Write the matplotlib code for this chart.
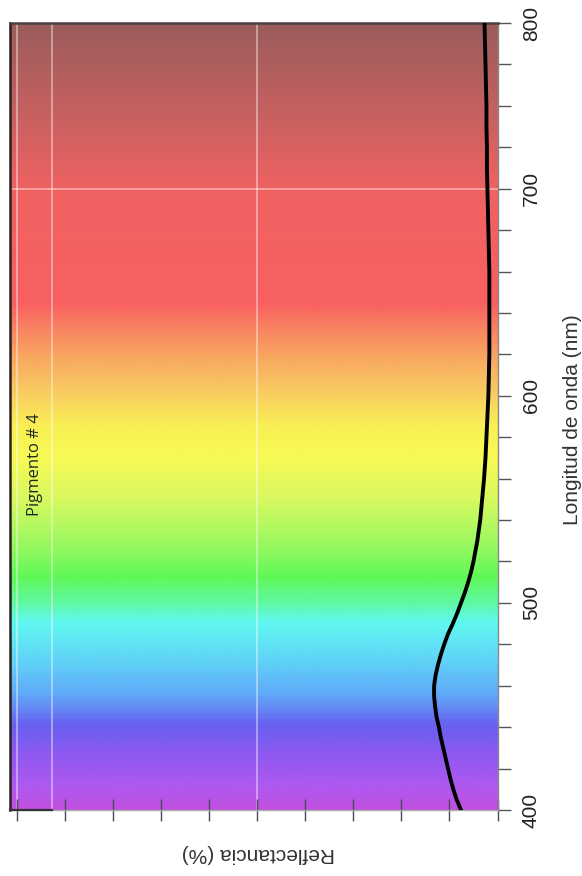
import numpy as np
import matplotlib
matplotlib.use("Agg")
import matplotlib.pyplot as plt
from matplotlib.colors import LinearSegmentedColormap

plt.rcParams['font.family'] = ['Liberation Sans', 'DejaVu Sans']

# ---- data ----
wavelength = [400, 405, 410, 415, 420, 425, 430, 435, 440, 445, 450, 455, 460,
              465, 470, 475, 480, 485, 490, 495, 500, 505, 510, 515, 520, 525,
              530, 535, 540, 545, 550, 560, 570, 580, 590, 600, 610, 620, 630,
              640, 650, 660, 670, 680, 690, 700, 710, 720, 730, 740, 750, 760,
              770, 780]
reflectance = [0.76, 0.85, 0.92, 0.98, 1.03, 1.08, 1.13, 1.18, 1.22, 1.27, 1.30,
               1.32, 1.32, 1.29, 1.24, 1.18, 1.11, 1.03, 0.93, 0.84, 0.76, 0.68,
               0.61, 0.55, 0.50, 0.46, 0.42, 0.39, 0.36, 0.34, 0.32, 0.28, 0.25,
               0.23, 0.21, 0.19, 0.18, 0.17, 0.17, 0.17, 0.17, 0.17, 0.18, 0.19,
               0.20, 0.21, 0.22, 0.22, 0.23, 0.23, 0.24, 0.25, 0.26, 0.27]

wl_ticks = list(range(400, 781, 20))
wl_labels = ['400', '', '', '', '', '500', '', '', '', '', '600', '', '', '', '',
             '700', '', '', '', '800']
refl_ticks = list(range(0, 11))
label_name = "Pigmento # 4"

# spectrum background colours (wavelength stop, colour)
spec_wl = [400, 410, 425, 440, 455, 470, 490, 500, 512, 530, 550, 570, 585,
           600, 615, 630, 645, 700, 740, 780]
spec_col = ['#c050e0', '#b058f0', '#9058f0', '#6860f0', '#60a8f8', '#60d0f8',
            '#60f8f0', '#60f8a0', '#60f858', '#a0f860', '#d8f860', '#f8fa55',
            '#f8f055', '#f8d060', '#f8b060', '#f88a60', '#f86060', '#f06262',
            '#c46060', '#9c5c5c']

W, H = 582, 876
fig = plt.figure(figsize=(W / 100, H / 100), dpi=100)
ax = fig.add_axes([10 / W, 66 / H, 487.5 / W, 787 / H])

xmax = 10.15
ax.set_xlim(xmax, 0)
ax.set_ylim(400, 780)

stops = [(w - spec_wl[0]) / (spec_wl[-1] - spec_wl[0]) for w in spec_wl]
cmap = LinearSegmentedColormap.from_list('spec', list(zip(stops, spec_col)))
grad = np.linspace(0, 1, 400).reshape(-1, 1)
ax.imshow(grad, cmap=cmap, aspect='auto', origin='lower',
          extent=[xmax, 0, 400, 780], zorder=0, interpolation='bilinear')

# grid lines
for gx in [10, 9.27, 5]:
    ax.axvline(gx, color='white', alpha=0.45, lw=1.3, zorder=1)
ax.axhline(700, color='white', alpha=0.45, lw=1.3, zorder=1)

ax.plot(reflectance, wavelength, color='black', lw=2.8, zorder=3,
        solid_capstyle='round', solid_joinstyle='round')

ax.text(9.62, 567, label_name, rotation=90, ha='center', va='center',
        fontsize=12, color='#1e2a1e', family=['Open Sans', 'DejaVu Sans'])

# spines
ax.spines['top'].set_color('#4a4040')
ax.spines['top'].set_linewidth(1.8)
ax.spines['left'].set_color('#2a2020')
ax.spines['left'].set_linewidth(1.8)
ax.spines['right'].set_color('#888888')
ax.spines['right'].set_linewidth(1.0)
ax.spines['bottom'].set_color('#aaaaaa')
ax.spines['bottom'].set_linewidth(1.0)
ax.plot([xmax, 9.27], [400, 400], color='#333333', lw=1.6, clip_on=False,
        zorder=4)

# ticks
ax.yaxis.tick_right()
ax.set_yticks(wl_ticks)
ax.set_yticklabels(wl_labels, rotation=90, va='center', fontsize=15,
                   color='#222222')
ax.tick_params(axis='y', direction='out', length=9.5, width=1.0,
               color='#555555', pad=8)
ax.set_xticks(refl_ticks)
ax.set_xticklabels([''] * len(refl_ticks))
ax.tick_params(axis='x', direction='inout', length=16, width=1.0,
               color='#4a4a5a')

fig.text(572 / W, 1 - 420 / H, 'Longitud de onda (nm)', rotation=90,
         ha='center', va='center', fontsize=15, color='#333333')
fig.text(258 / W, 1 - 853 / H, 'Reflectancia (%)', rotation=180,
         ha='center', va='center', fontsize=15, color='#333333')

fig.savefig('out.png', dpi=100)
